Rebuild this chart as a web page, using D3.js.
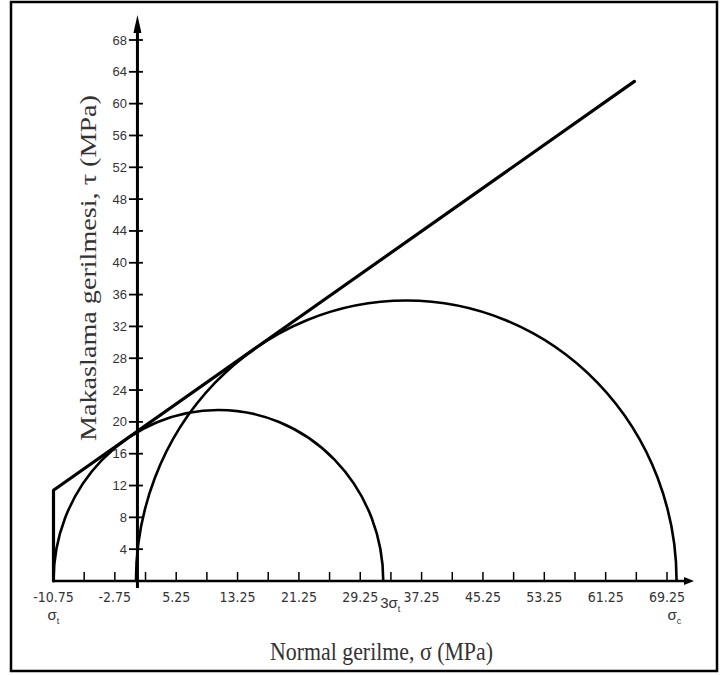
<!DOCTYPE html>
<meta charset="utf-8">
<style>
body { margin: 0; padding: 0; background: #fff; }
svg { display: block; }
.tick-lbl { font-family: "Liberation Sans Narrow", "DejaVu Sans Condensed", "Liberation Sans", sans-serif; font-size: 14px; fill: #333; }
.ytick-lbl { font-family: "Liberation Sans", Arial, sans-serif; font-size: 13px; fill: #333; }
.title { font-family: "Liberation Serif", "Times New Roman", serif; fill: #333; }
.sym { font-family: "Liberation Sans", Arial, sans-serif; font-size: 15px; fill: #333; }
</style>
<body>
<svg id="chart" width="721" height="675"></svg>
<script src="https://cdn.jsdelivr.net/npm/d3@7"></script>
<script>

// tick values
var xTicks = [-10.75, -6.75, -2.75, 1.25, 5.25, 9.25, 13.25, 17.25, 21.25, 25.25,
              29.25, 33.25, 37.25, 41.25, 45.25, 49.25, 53.25, 57.25, 61.25, 65.25, 69.25];
var xLabels = [-10.75, -2.75, 5.25, 13.25, 21.25, 29.25, 37.25, 45.25, 53.25, 61.25, 69.25];
var yTicks = [4, 8, 12, 16, 20, 24, 28, 32, 36, 40, 44, 48, 52, 56, 60, 64, 68];

// Mohr circles: [sigma3, sigma1]
var circles = [[-10.75, 32.25], [0, 70.5]];

// failure envelope (sigma, tau)
var envelope = [[-10.75, 0], [-10.75, 11.4], [65, 62.8]];

var svg = d3.select("#chart");

// frame
svg.append("rect")
  .attr("x", 11).attr("y", 2)
  .attr("width", 706).attr("height", 669)
  .attr("fill", "none")
  .attr("stroke", "#000")
  .attr("stroke-width", 2.5);

var x = d3.scaleLinear().domain([-10.75, 69.25]).range([53.5, 667]);
var y = d3.scaleLinear().domain([0, 68]).range([581, 40]);

// x axis
svg.append("line")
  .attr("x1", x(-10.75)).attr("x2", 684)
  .attr("y1", y(0)).attr("y2", y(0))
  .attr("stroke", "#000").attr("stroke-width", 2.5);
svg.append("path")
  .attr("d", "M684," + (y(0) - 4) + "L694," + y(0) + "L684," + (y(0) + 4) + "Z")
  .attr("fill", "#000");

svg.selectAll(".xt").data(xTicks).enter().append("line")
  .attr("class", "xt")
  .attr("x1", d => x(d)).attr("x2", d => x(d))
  .attr("y1", y(0)).attr("y2", y(0) - 9)
  .attr("stroke", "#000").attr("stroke-width", 1.5);

svg.selectAll(".xl").data(xLabels).enter().append("text")
  .attr("class", "tick-lbl")
  .attr("x", d => x(d)).attr("y", y(0) + 21)
  .attr("text-anchor", "middle")
  .text(d => d.toFixed(2));

// y axis
svg.append("line")
  .attr("x1", x(0) + 1.5).attr("x2", x(0) + 1.5)
  .attr("y1", y(0) + 7).attr("y2", 30)
  .attr("stroke", "#000").attr("stroke-width", 3);
svg.append("path")
  .attr("d", "M" + (x(0) - 2.5) + ",33L" + (x(0) + 1.5) + ",15L" + (x(0) + 5.5) + ",33Z")
  .attr("fill", "#000");

svg.selectAll(".yt").data(yTicks).enter().append("line")
  .attr("class", "yt")
  .attr("x1", x(0) - 7).attr("x2", x(0) + 7)
  .attr("y1", d => y(d)).attr("y2", d => y(d))
  .attr("stroke", "#000").attr("stroke-width", 1.8);

svg.selectAll(".yl").data(yTicks).enter().append("text")
  .attr("class", "ytick-lbl")
  .attr("x", x(0) - 9).attr("y", d => y(d) + 4.5)
  .attr("text-anchor", "end")
  .text(d => d);

// Mohr circles (upper halves)
svg.selectAll(".circ").data(circles).enter().append("path")
  .attr("class", "circ")
  .attr("d", function(d) {
    var rx = (x(d[1]) - x(d[0])) / 2;
    var ry = y(0) - y((d[1] - d[0]) / 2);
    return "M" + x(d[0]) + "," + y(0) + "A" + rx + "," + ry + " 0 0 1 " + x(d[1]) + "," + y(0);
  })
  .attr("fill", "none")
  .attr("stroke", "#000")
  .attr("stroke-width", 2.6);

// envelope
svg.append("path")
  .datum(envelope)
  .attr("d", d3.line().x(d => x(d[0])).y(d => y(d[1])))
  .attr("fill", "none")
  .attr("stroke", "#000")
  .attr("stroke-width", 3.2)
  .attr("stroke-linejoin", "round")
  .attr("stroke-linecap", "round");

// stress symbols
function sym(px, py, pre, sub) {
  var t = svg.append("text").attr("class", "sym").attr("x", px).attr("y", py);
  t.append("tspan").text(pre);
  t.append("tspan").attr("font-size", "9px").attr("dy", 4).text(sub);
  return t;
}
sym(x(-10.75) - 6, 620, "σ", "t");
sym(x(32.25) - 3, 608, "3σ", "t");
sym(x(70.5) - 9, 620, "σ", "c");

// axis titles
svg.append("text")
  .attr("class", "title")
  .attr("x", 270).attr("y", 660)
  .attr("font-size", "26px")
  .attr("textLength", 223)
  .attr("lengthAdjust", "spacingAndGlyphs")
  .text("Normal gerilme, σ (MPa)");

svg.append("text")
  .attr("class", "title")
  .attr("transform", "translate(96,441) rotate(-90)")
  .attr("font-size", "23px")
  .attr("textLength", 346)
  .attr("lengthAdjust", "spacingAndGlyphs")
  .text("Makaslama gerilmesi, τ (MPa)");

</script>
</body>
